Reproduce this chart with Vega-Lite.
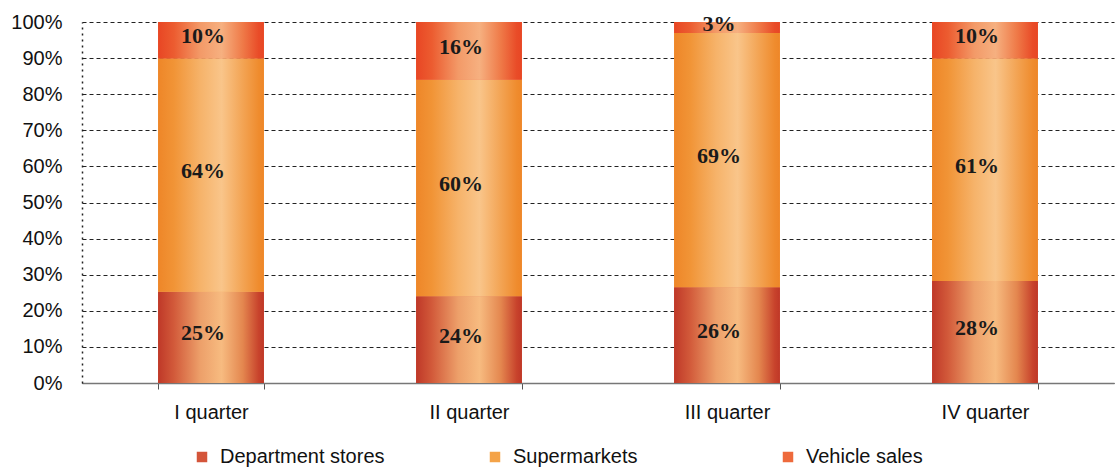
{
  "$schema": "https://vega.github.io/schema/vega-lite/v6.json",
  "width": 1032,
  "height": 361,
  "autosize": {"type": "none"},
  "padding": {"left": 82, "top": 22, "right": 1, "bottom": 87},
  "background": "white",
  "config": {
    "view": {"stroke": null},
    "font": "Liberation Sans",
    "axisY": {
      "labelOverlap": false,
      "labelFontSize": 20,
      "labelColor": "#111",
      "labelPadding": 20,
      "ticks": false,
      "domainColor": "#222",
      "domainDash": [2, 4],
      "domainWidth": 1.5,
      "grid": true,
      "gridColor": "#222",
      "gridDash": [4, 3],
      "gridWidth": 1
    }
  },
  "data": {
    "values": [
      {"quarter": "I quarter", "series": "Department stores", "value": 0.25},
      {"quarter": "I quarter", "series": "Supermarkets", "value": 0.64},
      {"quarter": "I quarter", "series": "Vehicle sales", "value": 0.10},
      {"quarter": "II quarter", "series": "Department stores", "value": 0.24},
      {"quarter": "II quarter", "series": "Supermarkets", "value": 0.60},
      {"quarter": "II quarter", "series": "Vehicle sales", "value": 0.16},
      {"quarter": "III quarter", "series": "Department stores", "value": 0.26},
      {"quarter": "III quarter", "series": "Supermarkets", "value": 0.69},
      {"quarter": "III quarter", "series": "Vehicle sales", "value": 0.03},
      {"quarter": "IV quarter", "series": "Department stores", "value": 0.28},
      {"quarter": "IV quarter", "series": "Supermarkets", "value": 0.61},
      {"quarter": "IV quarter", "series": "Vehicle sales", "value": 0.10}
    ]
  },
  "transform": [
    {"stack": "value", "groupby": ["quarter"], "sort": [{"field": "series", "order": "ascending"}], "offset": "normalize", "as": ["y0", "y1"]}
  ],
  "encoding": {
    "x": {
      "field": "quarter",
      "type": "nominal",
      "sort": ["I quarter", "II quarter", "III quarter", "IV quarter"],
      "scale": {"paddingInner": 0.59, "paddingOuter": 0.295},
      "axis": {
        "title": null,
        "labelAngle": 0,
        "labelFontSize": 20,
        "labelColor": "#111",
        "labelPadding": 13,
        "ticks": true,
        "tickSize": 6,
        "tickColor": "#555",
        "tickBand": "extent",
        "domainColor": "#777",
        "domainWidth": 1.5,
        "grid": false
      }
    }
  },
  "layer": [
    {
      "mark": {"type": "bar"},
      "encoding": {
        "y": {
          "field": "y0",
          "type": "quantitative",
          "scale": {"domain": [0, 1]},
          "axis": {
            "title": null,
            "values": [0, 0.1, 0.2, 0.3, 0.4, 0.5, 0.6, 0.7, 0.8, 0.9, 1],
            "format": ".0%"
          }
        },
        "y2": {"field": "y1"},
        "color": {
          "field": "series",
          "type": "nominal",
          "scale": {
            "domain": ["Department stores", "Supermarkets", "Vehicle sales"],
            "range": ["#d4553a", "#f4a348", "#ee6a3c"]
          },
          "legend": {
            "title": null,
            "orient": "none",
            "legendX": 110,
            "legendY": 425,
            "direction": "horizontal",
            "columns": 3,
            "gridAlign": "all",
            "columnPadding": 100,
            "symbolType": "square",
            "symbolSize": 110,
            "symbolStrokeWidth": 0,
            "labelFontSize": 20,
            "labelLimit": 400,
            "labelColor": "#111",
            "labelOffset": 8
          }
        }
      }
    },
    {
      "transform": [{"filter": {"field": "series", "equal": "Department stores"}}],
      "mark": {
        "type": "bar",
        "fill": {
          "gradient": "linear", "x1": 0, "x2": 1, "y1": 0, "y2": 0,
          "stops": [
            {"offset": 0, "color": "#bf3828"},
            {"offset": 0.15, "color": "#d25a3a"},
            {"offset": 0.4, "color": "#eda06a"},
            {"offset": 0.6, "color": "#f7bb80"},
            {"offset": 0.8, "color": "#e4874f"},
            {"offset": 0.95, "color": "#c8432c"},
            {"offset": 1, "color": "#bf3727"}
          ]
        }
      },
      "encoding": {
        "y": {"field": "y0", "type": "quantitative", "axis": {"title": null, "values": [0, 0.1, 0.2, 0.3, 0.4, 0.5, 0.6, 0.7, 0.8, 0.9, 1], "format": ".0%"}},
        "y2": {"field": "y1"}
      }
    },
    {
      "transform": [{"filter": {"field": "series", "equal": "Supermarkets"}}],
      "mark": {
        "type": "bar",
        "fill": {
          "gradient": "linear", "x1": 0, "x2": 1, "y1": 0, "y2": 0,
          "stops": [
            {"offset": 0, "color": "#ee8628"},
            {"offset": 0.15, "color": "#f19436"},
            {"offset": 0.4, "color": "#f6b36a"},
            {"offset": 0.6, "color": "#f9c58a"},
            {"offset": 0.8, "color": "#f3a454"},
            {"offset": 0.95, "color": "#ef8c2e"},
            {"offset": 1, "color": "#ee8628"}
          ]
        }
      },
      "encoding": {
        "y": {"field": "y0", "type": "quantitative", "axis": {"title": null, "values": [0, 0.1, 0.2, 0.3, 0.4, 0.5, 0.6, 0.7, 0.8, 0.9, 1], "format": ".0%"}},
        "y2": {"field": "y1"}
      }
    },
    {
      "transform": [{"filter": {"field": "series", "equal": "Vehicle sales"}}],
      "mark": {
        "type": "bar",
        "fill": {
          "gradient": "linear", "x1": 0, "x2": 1, "y1": 0, "y2": 0,
          "stops": [
            {"offset": 0, "color": "#e84624"},
            {"offset": 0.15, "color": "#ec5c30"},
            {"offset": 0.4, "color": "#f39a68"},
            {"offset": 0.6, "color": "#f6b080"},
            {"offset": 0.8, "color": "#ef7a48"},
            {"offset": 0.95, "color": "#e94c28"},
            {"offset": 1, "color": "#e84624"}
          ]
        }
      },
      "encoding": {
        "y": {"field": "y0", "type": "quantitative", "axis": {"title": null, "values": [0, 0.1, 0.2, 0.3, 0.4, 0.5, 0.6, 0.7, 0.8, 0.9, 1], "format": ".0%"}},
        "y2": {"field": "y1"}
      }
    },
    {
      "transform": [
        {"fold": ["y0", "y1"], "as": ["edge", "pos"]},
        {"aggregate": [{"op": "mean", "field": "pos", "as": "ymid"}], "groupby": ["quarter", "series", "value"]}
      ],
      "mark": {"type": "text", "font": "Liberation Serif", "fontWeight": "bold", "fontSize": 22, "color": "#1a1a1a", "dx": -8, "dy": -4, "baseline": "middle"},
      "encoding": {
        "y": {"field": "ymid", "type": "quantitative", "axis": {"title": null, "values": [0, 0.1, 0.2, 0.3, 0.4, 0.5, 0.6, 0.7, 0.8, 0.9, 1], "format": ".0%"}},
        "text": {"field": "value", "type": "quantitative", "format": ".0%"}
      }
    }
  ]
}
